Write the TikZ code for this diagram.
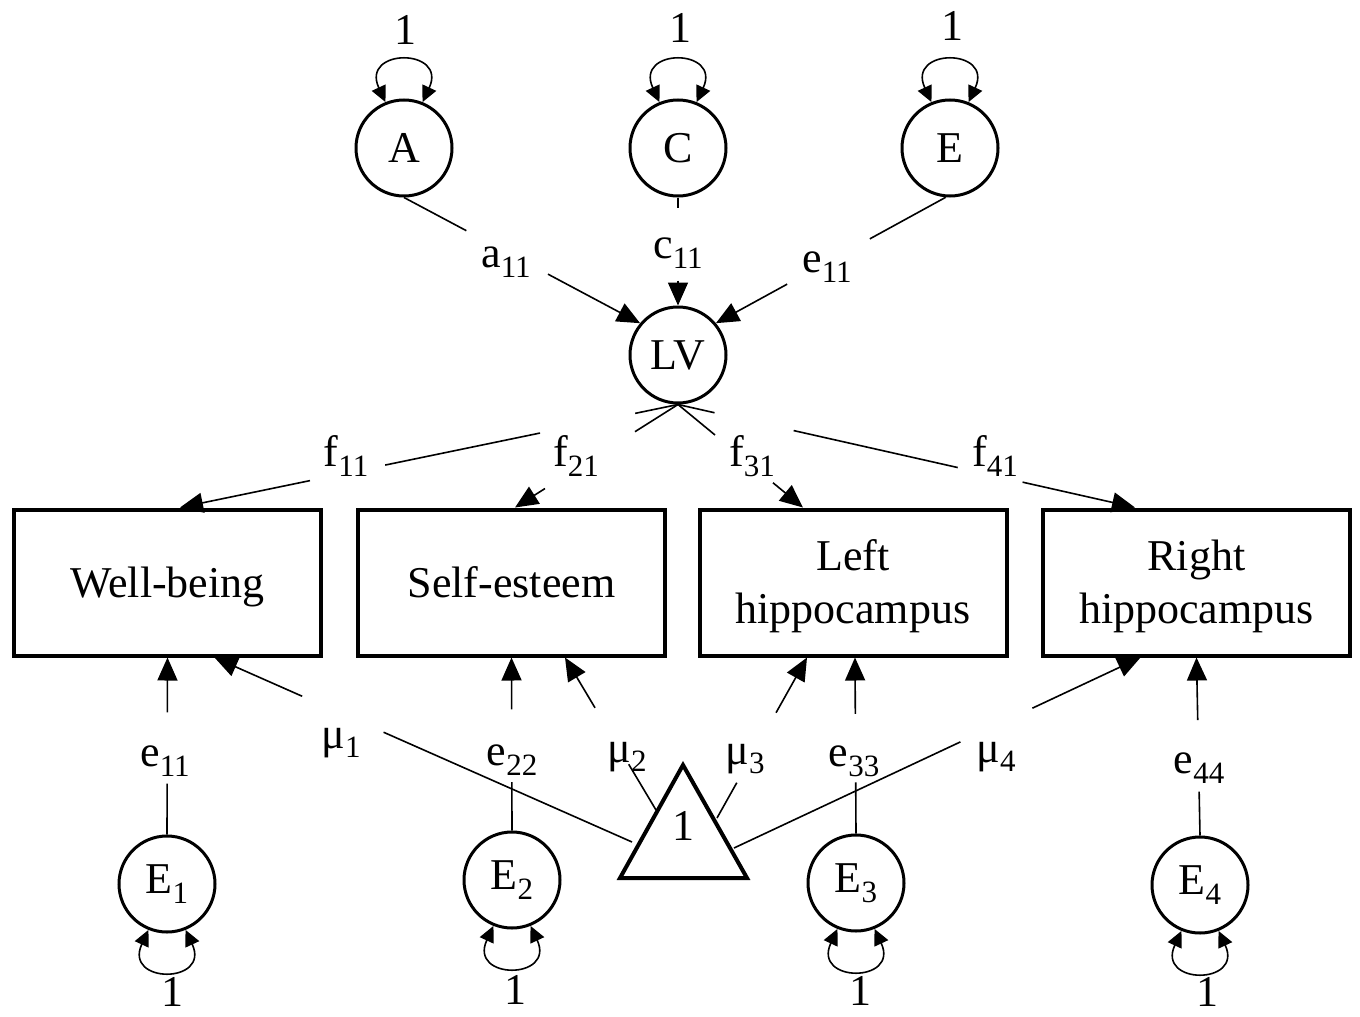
\documentclass[tikz,border=0pt]{standalone}
\usepackage{fontspec}
\setmainfont{Liberation Serif}
\usetikzlibrary{arrows.meta,calc}
\newcommand{\mysub}[1]{\raisebox{-0.22em}{\fontsize{31}{31}\selectfont #1}}
\newcommand{\obstext}[1]{\raisebox{-4pt}[\height][\depth]{\begin{tabular}{@{}c@{}}#1\end{tabular}}}
\begin{document}
\begin{tikzpicture}[x=1pt,y=1pt,
  every node/.style={font=\fontsize{44}{53}\selectfont},
  latent/.style={circle,draw,line width=3pt,minimum size=96pt,inner sep=0pt},
  obs/.style={rectangle,draw,line width=4pt,minimum width=307pt,minimum height=146pt,inner sep=0pt},
  conn/.style={line width=1.6pt},
  arr/.style={conn,-{Triangle[length=23pt,width=20pt]}},
  loopar/.style={line width=1.6pt,{Triangle[length=16pt,width=15pt]}-{Triangle[length=16pt,width=15pt]}},
  lab/.style={inner sep=0pt},
]
\useasboundingbox (0,0) rectangle (1360,-1017);

% latent variables
\node[latent] (A)  at (404,-148) {A};
\node[latent] (C)  at (678,-148) {C};
\node[latent] (E)  at (950,-148) {E};
\node[latent] (LV) at (678,-355) {LV};

% observed
\node[obs] (WB) at (167.5,-582.5) {\obstext{Well-being}};
\node[obs] (SE) at (511.5,-582.5) {\obstext{Self-esteem}};
\node[obs] (LH) at (853,-582.5) {\obstext{Left\\hippocampus}};
\node[obs] (RH) at (1196.5,-582.5) {\obstext{Right\\hippocampus}};

% residuals
\node[latent] (E1) at (167,-884) {E\mysub{1}};
\node[latent] (E2) at (512,-880) {E\mysub{2}};
\node[latent] (E3) at (856,-883) {E\mysub{3}};
\node[latent] (E4) at (1200,-885) {E\mysub{4}};

% mean triangle
\coordinate (TA) at (683,-765);
\coordinate (TL) at (620,-878);
\coordinate (TR) at (747,-878);
\draw[line width=4pt,line join=miter] (TA) -- (TL) -- (TR) -- cycle;
\node[lab] (T) at (683,-826) {1};

% variance loops top
\draw[loopar] (A.112) .. controls +(115:60) and +(65:60) .. (A.68);
\draw[loopar] (C.112) .. controls +(115:60) and +(65:60) .. (C.68);
\draw[loopar] (E.112) .. controls +(115:60) and +(65:60) .. (E.68);
\node[lab] (vA) at (405,-30) {1};
\node[lab] (vC) at (680,-28) {1};
\node[lab] (vE) at (952,-26) {1};

% variance loops bottom
\draw[loopar] (E1.-112) .. controls +(-115:60) and +(-65:60) .. (E1.-68);
\draw[loopar] (E2.-112) .. controls +(-115:60) and +(-65:60) .. (E2.-68);
\draw[loopar] (E3.-112) .. controls +(-115:60) and +(-65:60) .. (E3.-68);
\draw[loopar] (E4.-112) .. controls +(-115:60) and +(-65:60) .. (E4.-68);
\node[lab] (v1) at (172,-992) {1};
\node[lab] (v2) at (515,-990) {1};
\node[lab] (v3) at (860,-991) {1};
\node[lab] (v4) at (1207,-992) {1};

% A, C, E -> LV
\draw[conn] (A.south) -- ($(A.south)!0.264!(LV.140)$);
\draw[arr] ($(A.south)!0.61!(LV.140)$) -- (LV.140);
\node[lab] (la) at (506,-262) {a\mysub{11}};
\draw[conn] (C.south) -- ($(C.south)!0.10!(LV.north)$);
\draw[arr] ($(C.south)!0.77!(LV.north)$) -- (LV.north);
\node[lab] (lc) at (678,-253) {c\mysub{11}};
\draw[conn] (E.-95) -- ($(E.-95)!0.33!(LV.40)$);
\draw[arr] ($(E.-95)!0.69!(LV.40)$) -- (LV.40);
\node[lab] (le) at (827,-267) {e\mysub{11}};

% LV -> observed
\coordinate (f1) at ([xshift=12.5pt]WB.north);
\coordinate (f2) at ([xshift=3.5pt]SE.north);
\coordinate (f3) at ([xshift=-50pt]LH.north);
\coordinate (f4) at ([xshift=-61.5pt]RH.north);
\draw[conn] (LV.south) -- ($(LV.south)!0.086!(f1)$);
\draw[conn] ($(LV.south)!0.277!(f1)$) -- ($(LV.south)!0.588!(f1)$);
\draw[arr] ($(LV.south)!0.739!(f1)$) -- (f1);
\draw[conn] (LV.south) -- ($(LV.south)!0.264!(f2)$);
\draw[arr] ($(LV.south)!0.816!(f2)$) -- (f2);
\draw[conn] (LV.south) -- ($(LV.south)!0.296!(f3)$);
\draw[arr] ($(LV.south)!0.76!(f3)$) -- (f3);
\draw[conn] (LV.south) -- ($(LV.south)!0.08!(f4)$);
\draw[conn] ($(LV.south)!0.253!(f4)$) -- ($(LV.south)!0.612!(f4)$);
\draw[arr] ($(LV.south)!0.754!(f4)$) -- (f4);
\node[lab] (lf1) at (346,-456) {f\mysub{11}};
\node[lab] (lf2) at (576,-456) {f\mysub{21}};
\node[lab] (lf3) at (752,-456) {f\mysub{31}};
\node[lab] (lf4) at (995,-456) {f\mysub{41}};

% residuals -> observed
\draw[conn] (E1.north) -- ($(E1.north)!0.287!(WB.south)$);
\draw[arr] ($(E1.north)!0.69!(WB.south)$) -- (WB.south);
\draw[conn] (E2.north) -- ($(E2.north)!0.28!(SE.south)$);
\draw[arr] ($(E2.north)!0.70!(SE.south)$) -- (SE.south);
\draw[conn] (E3.north) -- ($(E3.north)!0.29!([xshift=2pt]LH.south)$);
\draw[arr] ($(E3.north)!0.68!([xshift=2pt]LH.south)$) -- ([xshift=2pt]LH.south);
\draw[conn] (E4.north) -- ($(E4.north)!0.246!(RH.south)$);
\draw[arr] ($(E4.north)!0.648!(RH.south)$) -- (RH.south);
\node[lab] (le1) at (165,-761) {e\mysub{11}};
\node[lab] (le2) at (512,-760) {e\mysub{22}};
\node[lab] (le3) at (854,-761) {e\mysub{33}};
\node[lab] (le4) at (1199,-768) {e\mysub{44}};

% triangle -> observed (means)
\coordinate (t1) at (632,-842);
\coordinate (t2) at (656,-810);
\coordinate (t3) at (717,-818);
\coordinate (t4) at (734,-848);
\coordinate (m1) at ([xshift=47pt]WB.south);
\coordinate (m2) at ([xshift=53.5pt]SE.south);
\coordinate (m3) at ([xshift=-46pt]LH.south);
\coordinate (m4) at ([xshift=-56pt]RH.south);
\draw[conn] (t1) -- ($(t1)!0.595!(m1)$);
\draw[arr] ($(t1)!0.79!(m1)$) -- (m1);
\draw[conn] (t2) -- ($(t2)!0.30!(m2)$);
\draw[arr] ($(t2)!0.67!(m2)$) -- (m2);
\draw[conn] (t3) -- ($(t3)!0.22!(m3)$);
\draw[arr] ($(t3)!0.656!(m3)$) -- (m3);
\draw[conn] (t4) -- ($(t4)!0.557!(m4)$);
\draw[arr] ($(t4)!0.734!(m4)$) -- (m4);
\node[lab] (lm1) at (341,-743) {μ\mysub{1}};
\node[lab] (lm2) at (627,-757) {μ\mysub{2}};
\node[lab] (lm3) at (745,-759) {μ\mysub{3}};
\node[lab] (lm4) at (996,-757) {μ\mysub{4}};
\end{tikzpicture}
\end{document}
